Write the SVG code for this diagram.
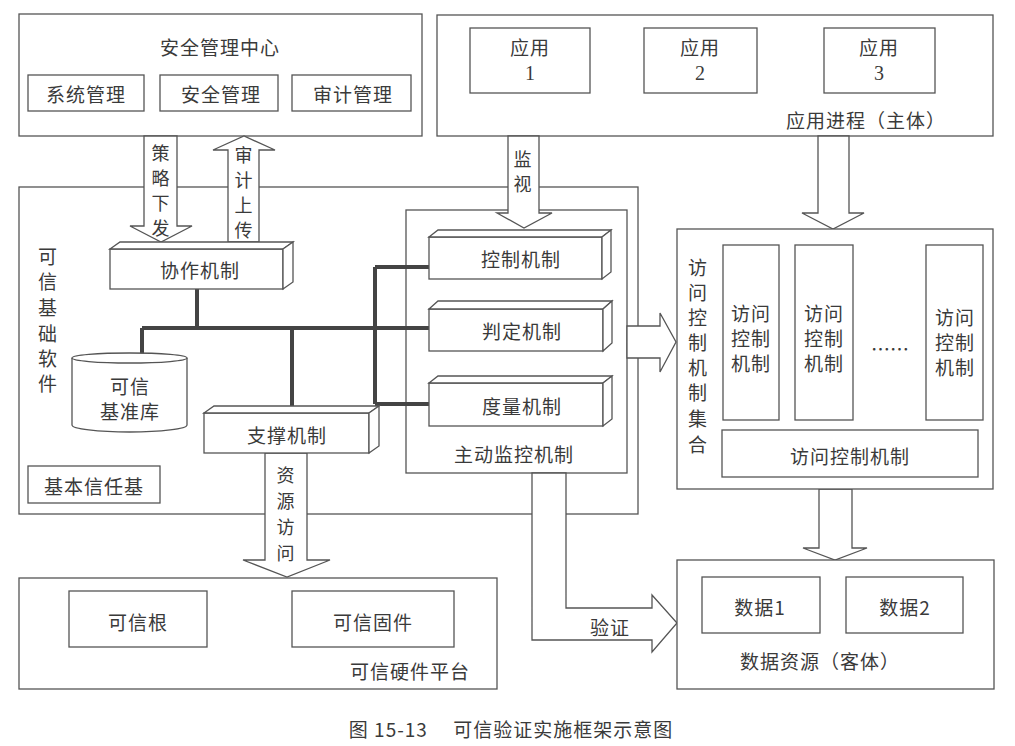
<svg xmlns="http://www.w3.org/2000/svg" width="1015" height="746" viewBox="0 0 1015 746">
<style>
.b{fill:#fff;stroke:#555;stroke-width:1.3}
.n{fill:none;stroke:#555;stroke-width:1.3}
.t{font-family:"Noto Sans CJK SC","Liberation Serif",sans-serif;font-size:19px;fill:#3a3a3a;text-anchor:middle;dominant-baseline:central;letter-spacing:1px}
.s{font-family:"Liberation Serif","Noto Sans CJK SC",serif;font-size:20px;fill:#3a3a3a;text-anchor:middle;dominant-baseline:central}
.k{fill:none;stroke:#444;stroke-width:4}
</style>
<rect width="1015" height="746" fill="#fff"/>

<g id="security-center">
<rect class="b" x="19" y="14" width="403" height="122"/>
<text class="t" x="220" y="46">安全管理中心</text>
<rect class="b" x="28" y="75" width="116" height="36"/>
<text class="t" x="86" y="93">系统管理</text>
<rect class="b" x="160" y="75" width="118" height="36"/>
<text class="t" x="221" y="93">安全管理</text>
<rect class="b" x="292" y="75" width="119" height="36"/>
<text class="t" x="353" y="93">审计管理</text>
</g>

<g id="app-process">
<rect class="b" x="437" y="15" width="556" height="121"/>
<rect class="b" x="470" y="28" width="120" height="65"/>
<text class="t" x="530" y="46">应用</text>
<text class="s" x="530" y="73">1</text>
<rect class="b" x="644" y="28" width="113" height="65"/>
<text class="t" x="700" y="46">应用</text>
<text class="s" x="700" y="73">2</text>
<rect class="b" x="824" y="28" width="111" height="65"/>
<text class="t" x="879" y="46">应用</text>
<text class="s" x="879" y="73">3</text>
<text class="t" x="866" y="119">应用进程（主体）</text>
</g>

<g id="trusted-base-software">
<rect class="b" x="19" y="187" width="619" height="327"/>
<g class="t">
<text x="48" y="255">可</text>
<text x="48" y="280">信</text>
<text x="48" y="306">基</text>
<text x="48" y="332">础</text>
<text x="48" y="357">软</text>
<text x="48" y="382">件</text>
</g>
<rect class="b" x="28" y="466" width="132" height="37"/>
<text class="t" x="94" y="485">基本信任基</text>
</g>

<g id="active-monitor">
<rect class="b" x="406" y="210" width="221" height="263"/>
<text class="t" x="514" y="453">主动监控机制</text>
</g>

<g id="connectors">
<path class="k" d="M197,289 V328 M142,328 H429 M142,328 V357 M292,328 V406 M375,267 V404 M375,267 H429 M375,404 H429"/>
<polygon class="b" points="144,136 177,136 177,226 192,226 161,242 130,226 144,226"/>
<polygon class="b" points="228,242 228,150 213,150 244,136 275,150 259,150 259,242"/>
<polygon class="b" points="508,136 539,136 539,213 552,213 524,228 497,213 508,213"/>
<polygon class="b" points="818,136 849,136 849,213 864,213 833,229 802,213 818,213"/>
<polygon class="b" points="627,326 660,326 660,313 676,342 660,372 660,358 627,358"/>
<polygon class="b" points="819,489 852,489 852,548 867,548 835,560 803,548 819,548"/>
<polygon class="b" points="265,453 307,453 307,560 330,560 287,577 243,560 265,560"/>
<path class="b" d="M532,473 V640 H652 V652 L677,623 L652,595 V608 H566 V473 Z"/>
<g class="t" style="font-size:18px">
<text x="161" y="152">策</text>
<text x="161" y="177">略</text>
<text x="161" y="202">下</text>
<text x="161" y="227">发</text>
<text x="244" y="154">审</text>
<text x="244" y="179">计</text>
<text x="244" y="204">上</text>
<text x="244" y="229">传</text>
<text x="523" y="158">监</text>
<text x="523" y="183">视</text>
<text x="286" y="474">资</text>
<text x="286" y="500">源</text>
<text x="286" y="526">访</text>
<text x="286" y="552">问</text>
</g>
<text class="t" x="610" y="626">验证</text>
</g>

<g id="coop">
<rect class="b" x="110" y="249" width="173" height="40"/>
<polygon class="b" points="110,249 120,242 293,242 283,249"/>
<polygon class="b" points="283,249 293,242 293,282 283,289"/>
<text class="t" x="200" y="269">协作机制</text>
</g>

<g id="support">
<rect class="b" x="204" y="413" width="165" height="40"/>
<polygon class="b" points="204,413 214,406 379,406 369,413"/>
<polygon class="b" points="369,413 379,406 379,446 369,453"/>
<text class="t" x="287" y="434">支撑机制</text>
</g>

<g id="trusted-db">
<path class="b" d="M72,358 V425 A57.5,7 0 0 0 187,425 V358"/>
<ellipse class="b" cx="129.5" cy="358" rx="57.5" ry="5"/>
<text class="t" x="130" y="385">可信</text>
<text class="t" x="130" y="410">基准库</text>
</g>

<g id="control">
<rect class="b" x="429" y="237" width="173" height="42"/>
<polygon class="b" points="429,237 438,230 611,230 602,237"/>
<polygon class="b" points="602,237 611,230 611,272 602,279"/>
<text class="t" x="521" y="258">控制机制</text>
</g>

<g id="judge">
<rect class="b" x="429" y="309" width="174" height="42"/>
<polygon class="b" points="429,309 438,301 612,301 603,309"/>
<polygon class="b" points="603,309 612,301 612,343 603,351"/>
<text class="t" x="522" y="330">判定机制</text>
</g>

<g id="measure">
<rect class="b" x="429" y="383" width="174" height="43"/>
<polygon class="b" points="429,383 438,376 612,376 603,383"/>
<polygon class="b" points="603,383 612,376 612,419 603,426"/>
<text class="t" x="522" y="405">度量机制</text>
</g>

<g id="access-control-set">
<rect class="b" x="677" y="229" width="316" height="260"/>
<g class="t">
<text x="698" y="266">访</text>
<text x="698" y="291">问</text>
<text x="698" y="316">控</text>
<text x="698" y="341">制</text>
<text x="698" y="366">机</text>
<text x="698" y="391">制</text>
<text x="698" y="417">集</text>
<text x="698" y="443">合</text>
</g>
<rect class="b" x="723" y="245" width="56" height="175"/>
<text class="t" x="751" y="312">访问</text>
<text class="t" x="751" y="337">控制</text>
<text class="t" x="751" y="362">机制</text>
<rect class="b" x="795" y="245" width="58" height="175"/>
<text class="t" x="824" y="312">访问</text>
<text class="t" x="824" y="337">控制</text>
<text class="t" x="824" y="362">机制</text>
<text class="t" x="890" y="348" style="letter-spacing:0">……</text>
<rect class="b" x="926" y="245" width="57" height="175"/>
<text class="t" x="955" y="316">访问</text>
<text class="t" x="955" y="341">控制</text>
<text class="t" x="955" y="366">机制</text>
<rect class="b" x="722" y="430" width="256" height="47"/>
<text class="t" x="850" y="455">访问控制机制</text>
</g>

<g id="hardware">
<rect class="b" x="19" y="578" width="478" height="111"/>
<rect class="b" x="69" y="591" width="138" height="56"/>
<text class="t" x="138" y="621">可信根</text>
<rect class="b" x="292" y="591" width="162" height="56"/>
<text class="t" x="373" y="621">可信固件</text>
<text class="t" x="410" y="670">可信硬件平台</text>
</g>

<g id="data-resource">
<rect class="b" x="677" y="560" width="317" height="129"/>
<rect class="b" x="702" y="577" width="118" height="56"/>
<text class="t" x="760" y="606">数据1</text>
<rect class="b" x="846" y="577" width="117" height="56"/>
<text class="t" x="905" y="606">数据2</text>
<text class="t" x="820" y="660">数据资源（客体）</text>
</g>

<text class="t" x="511" y="728" style="font-size:19px">图 15-13　 可信验证实施框架示意图</text>
</svg>
